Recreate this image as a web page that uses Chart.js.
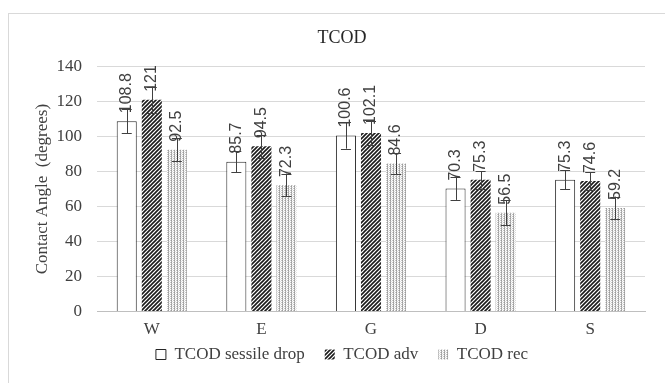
<!DOCTYPE html>
<html>
<head>
<meta charset="utf-8">
<script src="https://cdn.jsdelivr.net/npm/chart.js@4.4.0/dist/chart.umd.min.js"></script>
<style>
  html, body { margin: 0; padding: 0; background: #fff; overflow: hidden; width: 665px; height: 383px; }
  #frame { position: absolute; left: 8px; top: 13px; width: 700px; height: 400px; border: 1px solid #d9d9d9; }
  #chart { position: absolute; left: 0; top: 0; }
</style>
</head>
<body>
<div id="frame"></div>
<!-- taller than the window on purpose: the bottom of the legend box is cropped like in the reference -->
<canvas id="chart" width="665" height="399"></canvas>
<script>
const categories = ["W", "E", "G", "D", "S"];
const seriesNames = ["TCOD sessile drop", "TCOD adv", "TCOD rec"];
const sessile = [108.8, 85.7, 100.6, 70.3, 75.3];
const adv = [121, 94.5, 102.1, 75.3, 74.6];
const rec = [92.5, 72.3, 84.6, 56.5, 59.2];
// error bar half-lengths
const sessileErr = [7, 6, 7.5, 6.5, 5.5];
const advErr = [7.5, 6.5, 7, 5, 5];
const recErr = [6.5, 6.5, 6, 7, 6.5];
const yTicks = [0, 20, 40, 60, 80, 100, 120, 140];

const serif = "'Liberation Serif', 'Times New Roman', serif";
const textColor = "#404040";

function makePattern(w, h, draw) {
  const c = document.createElement("canvas");
  c.width = w;
  c.height = h;
  const g = c.getContext("2d");
  g.fillStyle = "#fff";
  g.fillRect(0, 0, w, h);
  draw(g);
  return g.createPattern(c, "repeat");
}

// wide upward diagonal, black on white
const hatch = makePattern(4, 4, (g) => {
  g.strokeStyle = "#1a1a1a";
  g.lineWidth = 1.6;
  g.beginPath();
  g.moveTo(-1, 5); g.lineTo(5, -1);
  g.moveTo(-1, 1); g.lineTo(1, -1);
  g.moveTo(3, 5); g.lineTo(5, 3);
  g.stroke();
});

// light grey dotted
const dots = makePattern(3, 2, (g) => {
  g.fillStyle = "#9a9a9a";
  g.fillRect(0, 0, 1, 1);
  g.fillStyle = "#b5b5b5";
  g.fillRect(0, 1, 1, 1);
  g.fillStyle = "#c8c8c8";
  g.fillRect(2, 0, 1, 1);
  g.fillStyle = "#e2e2e2";
  g.fillRect(1, 1, 1, 1);
});

const errors = [sessileErr, advErr, recErr];

// pull the legend up under the category labels
const legendShift = {
  id: "legendShift",
  afterLayout(chart) {
    chart.legend.top -= 22;
    chart.legend.bottom -= 22;
  }
};

const errorBarsAndLabels = {
  id: "errorBarsAndLabels",
  afterDatasetsDraw(chart) {
    const ctx = chart.ctx;
    const y = chart.scales.y;
    chart.data.datasets.forEach((ds, di) => {
      const meta = chart.getDatasetMeta(di);
      meta.data.forEach((bar, i) => {
        const v = ds.data[i];
        const e = errors[di][i];
        const yTop = y.getPixelForValue(v + e);
        const yBot = y.getPixelForValue(v - e);
        ctx.save();
        ctx.strokeStyle = "#404040";
        ctx.lineWidth = 1;
        ctx.beginPath();
        ctx.moveTo(Math.round(bar.x) + 0.5, yTop);
        ctx.lineTo(Math.round(bar.x) + 0.5, yBot);
        ctx.moveTo(bar.x - 5, Math.round(yTop) + 0.5);
        ctx.lineTo(bar.x + 5, Math.round(yTop) + 0.5);
        ctx.moveTo(bar.x - 5, Math.round(yBot) + 0.5);
        ctx.lineTo(bar.x + 5, Math.round(yBot) + 0.5);
        ctx.stroke();
        ctx.restore();
      });
    });
    chart.data.datasets.forEach((ds, di) => {
      const meta = chart.getDatasetMeta(di);
      meta.data.forEach((bar, i) => {
        ctx.save();
        ctx.translate(bar.x, bar.y - 8);
        ctx.rotate(-Math.PI / 2);
        ctx.font = "16px 'Liberation Sans', Arial, sans-serif";
        ctx.fillStyle = "#404040";
        ctx.textAlign = "left";
        ctx.textBaseline = "middle";
        ctx.fillText(String(ds.data[i]), 0, 0);
        ctx.restore();
      });
    });
  }
};

new Chart(document.getElementById("chart"), {
  type: "bar",
  data: {
    labels: categories,
    datasets: [
      { label: seriesNames[0], data: sessile, backgroundColor: "#ffffff", borderColor: "#262626", borderWidth: 1 },
      { label: seriesNames[1], data: adv, backgroundColor: hatch, borderColor: "#262626", borderWidth: 0 },
      { label: seriesNames[2], data: rec, backgroundColor: dots, borderColor: "#bfbfbf", borderWidth: 0 }
    ]
  },
  options: {
    responsive: false,
    animation: false,
    devicePixelRatio: 1,
    categoryPercentage: 0.686,
    barPercentage: 0.8,
    layout: { padding: { left: 39, right: 20, top: 0, bottom: 4 } },
    plugins: {
      title: {
        display: true,
        text: "TCOD",
        color: "#262626",
        font: { family: serif, size: 18, weight: "normal" },
        padding: { top: 27, bottom: 18 }
      },
      legend: {
        position: "bottom",
        labels: {
          color: textColor,
          font: { family: serif, size: 17 },
          boxWidth: 10,
          boxHeight: 10,
          padding: 20
        }
      },
      tooltip: { enabled: false }
    },
    scales: {
      x: {
        grid: { display: false, drawTicks: false },
        border: { color: "#bfbfbf" },
        ticks: { color: textColor, font: { family: serif, size: 17 }, padding: 8 }
      },
      y: {
        min: 0,
        max: 140,
        afterFit(scale) { scale.width = 58; },
        afterBuildTicks(scale) { scale.ticks = yTicks.map((v) => ({ value: v })); },
        grid: { color: "#d9d9d9", drawTicks: false },
        border: { display: false },
        ticks: { color: textColor, font: { family: serif, size: 17 }, padding: 15 },
        title: {
          display: true,
          text: "Contact Angle  (degrees)",
          color: textColor,
          font: { family: serif, size: 17 },
          padding: { top: -7, bottom: 0 }
        }
      }
    }
  },
  plugins: [legendShift, errorBarsAndLabels]
});
</script>
</body>
</html>
